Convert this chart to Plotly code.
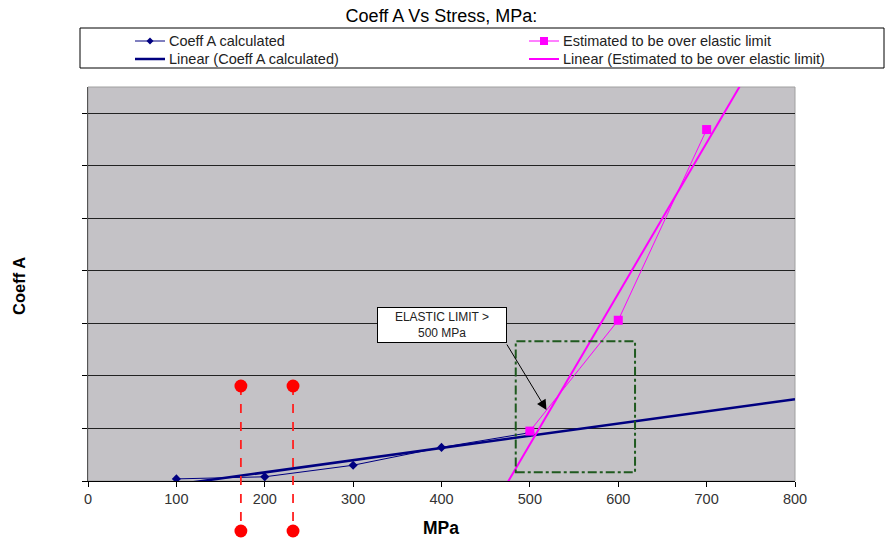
import numpy as np
import plotly.graph_objects as go

# ---- data ----
stress_calc = [100, 200, 300, 400, 500]
coeff_calc = [0.04, 0.08, 0.30, 0.64, 0.92]
stress_est = [500, 600, 700]
coeff_est = [0.95, 3.06, 6.69]
x_ticks = [0, 100, 200, 300, 400, 500, 600, 700, 800]
red_marks_x = [173, 232]
box_x = [484, 619]
box_y = [0.165, 2.66]

W, H = 886, 540
L, R, T, B = 88, 795, 87, 481
FONT = "Liberation Sans, Arial, sans-serif"
NAVY = "#000080"
PINK = "#FF00FF"


def px(xp):
    return (xp - L) / (R - L)


def py(yp):
    return (B - yp) / (B - T)


# linear trendlines (least squares) from the series
trend_x = np.array([0, 800])
k1, b1 = np.polyfit(stress_calc, coeff_calc, 1)
k2, b2 = np.polyfit(stress_est, coeff_est, 1)

fig = go.Figure()
fig.add_trace(go.Scatter(x=trend_x, y=k1 * trend_x + b1, mode="lines",
                         line=dict(color=NAVY, width=2.5), name="Linear (Coeff A calculated)"))
fig.add_trace(go.Scatter(x=trend_x, y=k2 * trend_x + b2, mode="lines",
                         line=dict(color=PINK, width=2), name="Linear (Estimated to be over elastic limit)"))
fig.add_trace(go.Scatter(x=stress_calc, y=coeff_calc, mode="lines+markers",
                         line=dict(color=NAVY, width=1),
                         marker=dict(symbol="diamond", size=7, color=NAVY),
                         name="Coeff A calculated"))
fig.add_trace(go.Scatter(x=stress_est, y=coeff_est, mode="lines+markers",
                         line=dict(color=PINK, width=1),
                         marker=dict(symbol="square", size=9, color=PINK),
                         name="Estimated to be over elastic limit"))

shapes = []
annotations = []

# plot-area light border
shapes.append(dict(type="rect", xref="paper", yref="paper", x0=0, x1=1, y0=0, y1=1,
                   line=dict(color="#A0A0A0", width=1), layer="below"))

# green dash-dot box
shapes.append(dict(type="rect", xref="x", yref="y", x0=box_x[0], x1=box_x[1],
                   y0=box_y[0], y1=box_y[1],
                   line=dict(color="#1F5A1F", width=2, dash="dashdot")))

# red dashed markers
for rx in red_marks_x:
    shapes.append(dict(type="line", xref="x", yref="paper", x0=rx, x1=rx,
                       y0=py(386), y1=py(531),
                       line=dict(color="#FF2020", width=1.8, dash="dash")))
    for cy in (386, 531):
        shapes.append(dict(type="circle", xref="x", yref="paper",
                           x0=rx - 7.3, x1=rx + 7.3, y0=py(cy + 6.5), y1=py(cy - 6.5),
                           fillcolor="#FF0000", line=dict(color="#FF0000", width=0)))

# manual legend
shapes.append(dict(type="rect", xref="paper", yref="paper", x0=px(80), x1=px(884),
                   y0=py(68), y1=py(28), line=dict(color="black", width=1),
                   fillcolor="white"))
rows = [41, 59]
# column 1
shapes.append(dict(type="line", xref="paper", yref="paper", x0=px(135), x1=px(165),
                   y0=py(rows[0]), y1=py(rows[0]), line=dict(color=NAVY, width=1)))
shapes.append(dict(type="path", xref="paper", yref="paper",
                   path=f"M {px(150)},{py(rows[0]-3.5)} L {px(153.5)},{py(rows[0])} "
                        f"L {px(150)},{py(rows[0]+3.5)} L {px(146.5)},{py(rows[0])} Z",
                   fillcolor=NAVY, line=dict(color=NAVY, width=0)))
shapes.append(dict(type="line", xref="paper", yref="paper", x0=px(135), x1=px(165),
                   y0=py(rows[1]), y1=py(rows[1]), line=dict(color=NAVY, width=2.5)))
# column 2
shapes.append(dict(type="line", xref="paper", yref="paper", x0=px(529), x1=px(559),
                   y0=py(rows[0]), y1=py(rows[0]), line=dict(color=PINK, width=1)))
shapes.append(dict(type="rect", xref="paper", yref="paper", x0=px(540), x1=px(548),
                   y0=py(rows[0] + 4), y1=py(rows[0] - 4), fillcolor=PINK,
                   line=dict(color=PINK, width=0)))
shapes.append(dict(type="line", xref="paper", yref="paper", x0=px(529), x1=px(559),
                   y0=py(rows[1]), y1=py(rows[1]), line=dict(color=PINK, width=2)))

leg_texts = [("Coeff A calculated", 167, rows[0]),
             ("Linear (Coeff A calculated)", 167, rows[1]),
             ("Estimated to be over elastic limit", 561, rows[0]),
             ("Linear (Estimated to be over elastic limit)", 561, rows[1])]
for txt, xx, yy in leg_texts:
    annotations.append(dict(text=txt, xref="paper", yref="paper", x=px(xx), y=py(yy),
                            xanchor="left", yanchor="middle", showarrow=False,
                            font=dict(family=FONT, size=14.5, color="#222")))

# axis titles
annotations.append(dict(text="<b>Coeff A</b>", xref="paper", yref="paper", x=px(19), y=py(286),
                        textangle=-90, showarrow=False, xanchor="center", yanchor="middle",
                        font=dict(family=FONT, size=16.5, color="black")))
annotations.append(dict(text="<b>MPa</b>", xref="paper", yref="paper", x=px(440.5), y=py(528),
                        showarrow=False, xanchor="center", yanchor="middle",
                        font=dict(family=FONT, size=17.5, color="black")))

# callout box
annotations.append(dict(text="ELASTIC LIMIT &gt;<br>500 MPa", xref="paper", yref="paper",
                        x=px(441.5), y=py(325), showarrow=False, xanchor="center", yanchor="middle",
                        width=124, height=30, bgcolor="white", bordercolor="black", borderwidth=1,
                        borderpad=2, font=dict(family=FONT, size=12, color="#222")))
annotations.append(dict(text="", xref="paper", yref="paper", x=px(546.5), y=py(410),
                        ax=506 - 546.5, ay=343 - 410, showarrow=True, arrowhead=2,
                        arrowsize=2, arrowwidth=1, arrowcolor="black"))

fig.update_layout(
    width=W, height=H,
    margin=dict(l=L, r=W - R, t=T, b=H - B),
    paper_bgcolor="white",
    plot_bgcolor="#C4C2C6",
    showlegend=False,
    title=dict(text="Coeff A Vs Stress, MPa:", x=0.5, xref="paper", xanchor="center",
               y=1 - 16 / H, yanchor="middle",
               font=dict(family=FONT, size=18, color="black")),
    xaxis=dict(range=[0, 800], tickvals=x_ticks, showgrid=False, zeroline=False,
               showline=True, linecolor="black", linewidth=1,
               ticks="outside", ticklen=5, tickcolor="black",
               tickfont=dict(family=FONT, size=14.5, color="#333")),
    yaxis=dict(range=[0, 7.5], dtick=1, showgrid=True, gridcolor="#222", gridwidth=1,
               zeroline=False, showline=True, linecolor="#555", linewidth=1,
               ticks="outside", ticklen=5, tickcolor="black", showticklabels=False),
    shapes=shapes,
    annotations=annotations,
)

fig.write_html("out.html", config={"displayModeBar": False},
               post_script="document.body.style.margin='0px';")
